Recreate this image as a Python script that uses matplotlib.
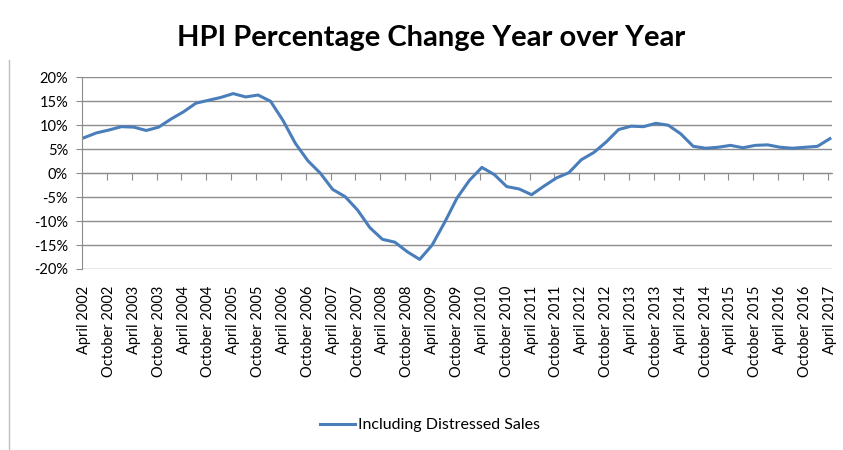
import matplotlib.pyplot as plt
import numpy as np

plt.rcParams['font.family'] = ['Lato', 'DejaVu Sans']

# quarterly readings, month index 0 = April 2002 ... 180 = April 2017
months = list(range(0, 181, 3))
hpi_change = [7.4, 8.4, 9.0, 9.7, 9.6, 8.9, 9.6, 11.3, 12.8, 14.6,
              15.2, 15.8, 16.6, 15.9, 16.3, 15.0, 11.0, 6.2, 2.6, 0.0,
              -3.4, -4.9, -7.7, -11.4, -13.8, -14.4, -16.4, -18.0, -15.0, -10.3,
              -5.2, -1.5, 1.2, -0.3, -2.8, -3.3, -4.5, -2.7, -1.0, 0.1,
              2.8, 4.3, 6.5, 9.1, 9.8, 9.7, 10.4, 10.0, 8.2, 5.6,
              5.2, 5.4, 5.8, 5.3, 5.8, 5.9, 5.4, 5.2, 5.4, 5.6,
              7.2]

tick_months = list(range(0, 181, 6))
tick_labels = []
for i, m in enumerate(tick_months):
    year = 2002 + m // 12
    tick_labels.append(('April %i' if i % 2 == 0 else 'October %i') % year)

y_ticks = [-20, -15, -10, -5, 0, 5, 10, 15, 20]

fig = plt.figure(figsize=(8.43, 4.5), dpi=100)
ax = fig.add_axes([82 / 843, 1 - 269 / 450, 750 / 843, 191.7 / 450])

ax.plot(months, hpi_change, color='#4a7ebb', lw=2.2, label='Including Distressed Sales')

ax.set_xlim(-0.5, 180.5)
ax.set_ylim(-20, 20)
ax.set_yticks(y_ticks)
ax.set_yticklabels(['%i%%' % v for v in y_ticks], fontsize=10.5)
ax.yaxis.grid(True, color='#8c8c8c', lw=1)
ax.set_axisbelow(True)

ax.set_xticks(tick_months)
ax.set_xticklabels(tick_labels, rotation=90, fontsize=10.5)
ax.tick_params(axis='x', length=0, pad=12)
ax.tick_params(axis='y', length=4, color='#8c8c8c', pad=6)

for s in ['top', 'right', 'bottom']:
    ax.spines[s].set_visible(False)
ax.spines['left'].set_color('#8c8c8c')

# category axis crossing at 0 with tick marks between categories
sec = ax.secondary_xaxis(0.5)
sec.set_xticks([m - 0.5 for m in tick_months])
sec.set_xticklabels([])
sec.tick_params(length=5, color='#8c8c8c', direction='in')
sec.spines['bottom'].set_color('#8c8c8c')
sec.spines['top'].set_color('#8c8c8c')

fig.text(0.512, 0.916, 'HPI Percentage Change Year over Year', ha='center', va='center',
         fontsize=21, fontweight='bold')

fig.legend(loc='center', bbox_to_anchor=(0.51, 0.055), frameon=False, fontsize=11.5,
           handlelength=2.2, handletextpad=0.15)

fig.add_artist(plt.Line2D([9 / 843, 9 / 843], [0, 1 - 60 / 450], color='#bfbfbf', lw=1))

plt.savefig('out.png', dpi=100)
